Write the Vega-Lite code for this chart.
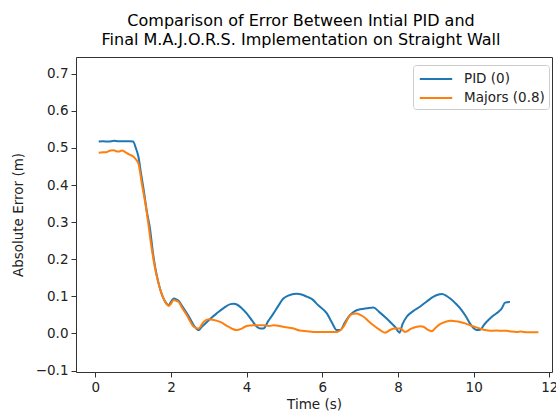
{
  "$schema": "https://vega.github.io/schema/vega-lite/v6.json",
  "autosize": {"type": "none"},
  "width": 476,
  "height": 315,
  "padding": {"left": 76, "top": 57, "right": 4, "bottom": 43},
  "background": "white",
  "title": {
    "text": ["Comparison of Error Between Intial PID and", "Final M.A.J.O.R.S. Implementation on Straight Wall"],
    "font": "DejaVu Sans",
    "fontSize": 16,
    "fontWeight": "normal",
    "color": "#000",
    "anchor": "middle",
    "lineHeight": 19.5,
    "offset": 9,
    "dx": -13
  },
  "config": {
    "view": {"stroke": "#333", "strokeWidth": 1},
    "font": "DejaVu Sans",
    "axis": {
      "grid": false,
      "domain": false,
      "tickColor": "#333",
      "tickSize": 5,
      "labelFont": "DejaVu Sans",
      "labelFontSize": 13.5,
      "labelColor": "#222",
      "labelPadding": 3,
      "titleFont": "DejaVu Sans",
      "titleFontSize": 13.5,
      "titleFontWeight": "normal",
      "titleColor": "#222"
    },
    "legend": {
      "labelFont": "DejaVu Sans",
      "labelFontSize": 13.5,
      "labelColor": "#222"
    }
  },
  "data": {
    "values": [
      {"t": 0.09, "err": 0.517, "series": "PID (0)"},
      {"t": 0.2, "err": 0.518, "series": "PID (0)"},
      {"t": 0.35, "err": 0.517, "series": "PID (0)"},
      {"t": 0.5, "err": 0.519, "series": "PID (0)"},
      {"t": 0.6, "err": 0.518, "series": "PID (0)"},
      {"t": 0.75, "err": 0.518, "series": "PID (0)"},
      {"t": 0.9, "err": 0.518, "series": "PID (0)"},
      {"t": 1.0, "err": 0.517, "series": "PID (0)"},
      {"t": 1.07, "err": 0.5, "series": "PID (0)"},
      {"t": 1.14, "err": 0.476, "series": "PID (0)"},
      {"t": 1.21, "err": 0.43, "series": "PID (0)"},
      {"t": 1.28, "err": 0.386, "series": "PID (0)"},
      {"t": 1.36, "err": 0.33, "series": "PID (0)"},
      {"t": 1.45, "err": 0.279, "series": "PID (0)"},
      {"t": 1.52, "err": 0.22, "series": "PID (0)"},
      {"t": 1.58, "err": 0.18, "series": "PID (0)"},
      {"t": 1.65, "err": 0.145, "series": "PID (0)"},
      {"t": 1.72, "err": 0.117, "series": "PID (0)"},
      {"t": 1.79, "err": 0.097, "series": "PID (0)"},
      {"t": 1.85, "err": 0.085, "series": "PID (0)"},
      {"t": 1.94, "err": 0.076, "series": "PID (0)"},
      {"t": 2.0, "err": 0.085, "series": "PID (0)"},
      {"t": 2.07, "err": 0.094, "series": "PID (0)"},
      {"t": 2.14, "err": 0.092, "series": "PID (0)"},
      {"t": 2.2, "err": 0.088, "series": "PID (0)"},
      {"t": 2.3, "err": 0.073, "series": "PID (0)"},
      {"t": 2.42, "err": 0.054, "series": "PID (0)"},
      {"t": 2.52, "err": 0.037, "series": "PID (0)"},
      {"t": 2.6, "err": 0.022, "series": "PID (0)"},
      {"t": 2.67, "err": 0.013, "series": "PID (0)"},
      {"t": 2.73, "err": 0.009, "series": "PID (0)"},
      {"t": 2.8, "err": 0.016, "series": "PID (0)"},
      {"t": 2.95, "err": 0.031, "series": "PID (0)"},
      {"t": 3.08, "err": 0.043, "series": "PID (0)"},
      {"t": 3.21, "err": 0.054, "series": "PID (0)"},
      {"t": 3.4, "err": 0.069, "series": "PID (0)"},
      {"t": 3.57, "err": 0.079, "series": "PID (0)"},
      {"t": 3.66, "err": 0.08, "series": "PID (0)"},
      {"t": 3.74, "err": 0.078, "series": "PID (0)"},
      {"t": 3.87, "err": 0.068, "series": "PID (0)"},
      {"t": 4.0, "err": 0.054, "series": "PID (0)"},
      {"t": 4.14, "err": 0.035, "series": "PID (0)"},
      {"t": 4.27, "err": 0.018, "series": "PID (0)"},
      {"t": 4.36, "err": 0.013, "series": "PID (0)"},
      {"t": 4.44, "err": 0.013, "series": "PID (0)"},
      {"t": 4.57, "err": 0.033, "series": "PID (0)"},
      {"t": 4.71, "err": 0.054, "series": "PID (0)"},
      {"t": 4.84, "err": 0.075, "series": "PID (0)"},
      {"t": 4.97, "err": 0.094, "series": "PID (0)"},
      {"t": 5.1, "err": 0.102, "series": "PID (0)"},
      {"t": 5.24, "err": 0.106, "series": "PID (0)"},
      {"t": 5.33, "err": 0.107, "series": "PID (0)"},
      {"t": 5.45, "err": 0.105, "series": "PID (0)"},
      {"t": 5.59, "err": 0.099, "series": "PID (0)"},
      {"t": 5.72, "err": 0.093, "series": "PID (0)"},
      {"t": 5.9, "err": 0.075, "series": "PID (0)"},
      {"t": 6.12, "err": 0.054, "series": "PID (0)"},
      {"t": 6.25, "err": 0.03, "series": "PID (0)"},
      {"t": 6.38, "err": 0.009, "series": "PID (0)"},
      {"t": 6.47, "err": 0.009, "series": "PID (0)"},
      {"t": 6.6, "err": 0.03, "series": "PID (0)"},
      {"t": 6.73, "err": 0.049, "series": "PID (0)"},
      {"t": 6.86, "err": 0.06, "series": "PID (0)"},
      {"t": 7.0, "err": 0.065, "series": "PID (0)"},
      {"t": 7.18, "err": 0.068, "series": "PID (0)"},
      {"t": 7.35, "err": 0.07, "series": "PID (0)"},
      {"t": 7.5, "err": 0.058, "series": "PID (0)"},
      {"t": 7.7, "err": 0.04, "series": "PID (0)"},
      {"t": 7.82, "err": 0.028, "series": "PID (0)"},
      {"t": 7.92, "err": 0.018, "series": "PID (0)"},
      {"t": 8.04, "err": 0.002, "series": "PID (0)"},
      {"t": 8.12, "err": 0.025, "series": "PID (0)"},
      {"t": 8.23, "err": 0.045, "series": "PID (0)"},
      {"t": 8.4, "err": 0.06, "series": "PID (0)"},
      {"t": 8.58, "err": 0.072, "series": "PID (0)"},
      {"t": 8.76, "err": 0.086, "series": "PID (0)"},
      {"t": 8.94, "err": 0.099, "series": "PID (0)"},
      {"t": 9.05, "err": 0.104, "series": "PID (0)"},
      {"t": 9.16, "err": 0.106, "series": "PID (0)"},
      {"t": 9.27, "err": 0.102, "series": "PID (0)"},
      {"t": 9.38, "err": 0.094, "series": "PID (0)"},
      {"t": 9.53, "err": 0.08, "series": "PID (0)"},
      {"t": 9.68, "err": 0.063, "series": "PID (0)"},
      {"t": 9.8, "err": 0.045, "series": "PID (0)"},
      {"t": 9.9, "err": 0.027, "series": "PID (0)"},
      {"t": 10.0, "err": 0.014, "series": "PID (0)"},
      {"t": 10.08, "err": 0.009, "series": "PID (0)"},
      {"t": 10.17, "err": 0.01, "series": "PID (0)"},
      {"t": 10.28, "err": 0.024, "series": "PID (0)"},
      {"t": 10.39, "err": 0.036, "series": "PID (0)"},
      {"t": 10.52, "err": 0.048, "series": "PID (0)"},
      {"t": 10.65, "err": 0.058, "series": "PID (0)"},
      {"t": 10.74, "err": 0.067, "series": "PID (0)"},
      {"t": 10.83, "err": 0.083, "series": "PID (0)"},
      {"t": 10.96, "err": 0.085, "series": "PID (0)"},
      {"t": 0.09, "err": 0.487, "series": "Majors (0.8)"},
      {"t": 0.2, "err": 0.488, "series": "Majors (0.8)"},
      {"t": 0.31, "err": 0.489, "series": "Majors (0.8)"},
      {"t": 0.4, "err": 0.493, "series": "Majors (0.8)"},
      {"t": 0.48, "err": 0.494, "series": "Majors (0.8)"},
      {"t": 0.55, "err": 0.491, "series": "Majors (0.8)"},
      {"t": 0.62, "err": 0.49, "series": "Majors (0.8)"},
      {"t": 0.7, "err": 0.493, "series": "Majors (0.8)"},
      {"t": 0.8, "err": 0.488, "series": "Majors (0.8)"},
      {"t": 0.88, "err": 0.483, "series": "Majors (0.8)"},
      {"t": 0.95, "err": 0.48, "series": "Majors (0.8)"},
      {"t": 1.01, "err": 0.476, "series": "Majors (0.8)"},
      {"t": 1.08, "err": 0.468, "series": "Majors (0.8)"},
      {"t": 1.14, "err": 0.458, "series": "Majors (0.8)"},
      {"t": 1.23, "err": 0.404, "series": "Majors (0.8)"},
      {"t": 1.35, "err": 0.333, "series": "Majors (0.8)"},
      {"t": 1.41, "err": 0.29, "series": "Majors (0.8)"},
      {"t": 1.47, "err": 0.243, "series": "Majors (0.8)"},
      {"t": 1.52, "err": 0.21, "series": "Majors (0.8)"},
      {"t": 1.58, "err": 0.175, "series": "Majors (0.8)"},
      {"t": 1.65, "err": 0.143, "series": "Majors (0.8)"},
      {"t": 1.72, "err": 0.117, "series": "Majors (0.8)"},
      {"t": 1.79, "err": 0.097, "series": "Majors (0.8)"},
      {"t": 1.85, "err": 0.085, "series": "Majors (0.8)"},
      {"t": 1.94, "err": 0.074, "series": "Majors (0.8)"},
      {"t": 2.0, "err": 0.08, "series": "Majors (0.8)"},
      {"t": 2.07, "err": 0.09, "series": "Majors (0.8)"},
      {"t": 2.14, "err": 0.088, "series": "Majors (0.8)"},
      {"t": 2.2, "err": 0.085, "series": "Majors (0.8)"},
      {"t": 2.3, "err": 0.068, "series": "Majors (0.8)"},
      {"t": 2.42, "err": 0.049, "series": "Majors (0.8)"},
      {"t": 2.52, "err": 0.03, "series": "Majors (0.8)"},
      {"t": 2.6, "err": 0.018, "series": "Majors (0.8)"},
      {"t": 2.73, "err": 0.013, "series": "Majors (0.8)"},
      {"t": 2.86, "err": 0.031, "series": "Majors (0.8)"},
      {"t": 3.0, "err": 0.038, "series": "Majors (0.8)"},
      {"t": 3.1, "err": 0.037, "series": "Majors (0.8)"},
      {"t": 3.3, "err": 0.031, "series": "Majors (0.8)"},
      {"t": 3.52, "err": 0.018, "series": "Majors (0.8)"},
      {"t": 3.63, "err": 0.012, "series": "Majors (0.8)"},
      {"t": 3.74, "err": 0.009, "series": "Majors (0.8)"},
      {"t": 3.87, "err": 0.013, "series": "Majors (0.8)"},
      {"t": 4.0, "err": 0.02, "series": "Majors (0.8)"},
      {"t": 4.18, "err": 0.022, "series": "Majors (0.8)"},
      {"t": 4.45, "err": 0.022, "series": "Majors (0.8)"},
      {"t": 4.6, "err": 0.02, "series": "Majors (0.8)"},
      {"t": 4.71, "err": 0.022, "series": "Majors (0.8)"},
      {"t": 5.0, "err": 0.017, "series": "Majors (0.8)"},
      {"t": 5.24, "err": 0.013, "series": "Majors (0.8)"},
      {"t": 5.4, "err": 0.008, "series": "Majors (0.8)"},
      {"t": 5.59, "err": 0.006, "series": "Majors (0.8)"},
      {"t": 5.86, "err": 0.004, "series": "Majors (0.8)"},
      {"t": 6.1, "err": 0.004, "series": "Majors (0.8)"},
      {"t": 6.38, "err": 0.004, "series": "Majors (0.8)"},
      {"t": 6.47, "err": 0.008, "series": "Majors (0.8)"},
      {"t": 6.56, "err": 0.018, "series": "Majors (0.8)"},
      {"t": 6.65, "err": 0.035, "series": "Majors (0.8)"},
      {"t": 6.73, "err": 0.049, "series": "Majors (0.8)"},
      {"t": 6.82, "err": 0.053, "series": "Majors (0.8)"},
      {"t": 6.91, "err": 0.054, "series": "Majors (0.8)"},
      {"t": 7.0, "err": 0.05, "series": "Majors (0.8)"},
      {"t": 7.09, "err": 0.045, "series": "Majors (0.8)"},
      {"t": 7.2, "err": 0.035, "series": "Majors (0.8)"},
      {"t": 7.35, "err": 0.022, "series": "Majors (0.8)"},
      {"t": 7.5, "err": 0.011, "series": "Majors (0.8)"},
      {"t": 7.66, "err": 0.002, "series": "Majors (0.8)"},
      {"t": 7.8, "err": 0.01, "series": "Majors (0.8)"},
      {"t": 7.92, "err": 0.013, "series": "Majors (0.8)"},
      {"t": 8.06, "err": 0.013, "series": "Majors (0.8)"},
      {"t": 8.19, "err": 0.004, "series": "Majors (0.8)"},
      {"t": 8.35, "err": 0.013, "series": "Majors (0.8)"},
      {"t": 8.5, "err": 0.018, "series": "Majors (0.8)"},
      {"t": 8.6, "err": 0.019, "series": "Majors (0.8)"},
      {"t": 8.67, "err": 0.018, "series": "Majors (0.8)"},
      {"t": 8.78, "err": 0.01, "series": "Majors (0.8)"},
      {"t": 8.89, "err": 0.006, "series": "Majors (0.8)"},
      {"t": 9.0, "err": 0.016, "series": "Majors (0.8)"},
      {"t": 9.11, "err": 0.025, "series": "Majors (0.8)"},
      {"t": 9.25, "err": 0.031, "series": "Majors (0.8)"},
      {"t": 9.38, "err": 0.034, "series": "Majors (0.8)"},
      {"t": 9.5, "err": 0.033, "series": "Majors (0.8)"},
      {"t": 9.64, "err": 0.031, "series": "Majors (0.8)"},
      {"t": 9.78, "err": 0.027, "series": "Majors (0.8)"},
      {"t": 9.9, "err": 0.022, "series": "Majors (0.8)"},
      {"t": 10.05, "err": 0.017, "series": "Majors (0.8)"},
      {"t": 10.17, "err": 0.013, "series": "Majors (0.8)"},
      {"t": 10.3, "err": 0.009, "series": "Majors (0.8)"},
      {"t": 10.43, "err": 0.007, "series": "Majors (0.8)"},
      {"t": 10.6, "err": 0.008, "series": "Majors (0.8)"},
      {"t": 10.75, "err": 0.007, "series": "Majors (0.8)"},
      {"t": 10.87, "err": 0.007, "series": "Majors (0.8)"},
      {"t": 11.0, "err": 0.005, "series": "Majors (0.8)"},
      {"t": 11.14, "err": 0.004, "series": "Majors (0.8)"},
      {"t": 11.25, "err": 0.005, "series": "Majors (0.8)"},
      {"t": 11.4, "err": 0.003, "series": "Majors (0.8)"},
      {"t": 11.55, "err": 0.003, "series": "Majors (0.8)"},
      {"t": 11.71, "err": 0.003, "series": "Majors (0.8)"}
    ]
  },
  "mark": {"type": "line", "strokeWidth": 2, "interpolate": "monotone"},
  "encoding": {
    "x": {
      "field": "t",
      "type": "quantitative",
      "title": "Time (s)",
      "scale": {"domain": [-0.51, 12.07], "nice": false, "zero": false},
      "axis": {"values": [0, 2, 4, 6, 8, 10, 12], "format": "d", "titlePadding": 4}
    },
    "y": {
      "field": "err",
      "type": "quantitative",
      "title": "Absolute Error (m)",
      "scale": {"domain": [-0.104, 0.745], "nice": false, "zero": false},
      "axis": {"values": [-0.1, 0, 0.1, 0.2, 0.3, 0.4, 0.5, 0.6, 0.7], "format": ".1f", "titlePadding": 10}
    },
    "color": {
      "field": "series",
      "type": "nominal",
      "sort": ["PID (0)", "Majors (0.8)"],
      "scale": {"domain": ["PID (0)", "Majors (0.8)"], "range": ["#1f77b4", "#ff7f0e"]},
      "legend": {
        "title": null,
        "orient": "none",
        "legendX": 337,
        "legendY": 8,
        "symbolType": "M-1.8,0H1.8",
        "symbolSize": 324,
        "symbolStrokeWidth": 2,
        "symbolOffset": 9,
        "labelOffset": 18,
        "rowPadding": 2,
        "padding": 4,
        "fillColor": "white",
        "strokeColor": "#cccccc",
        "cornerRadius": 3
      }
    }
  }
}
